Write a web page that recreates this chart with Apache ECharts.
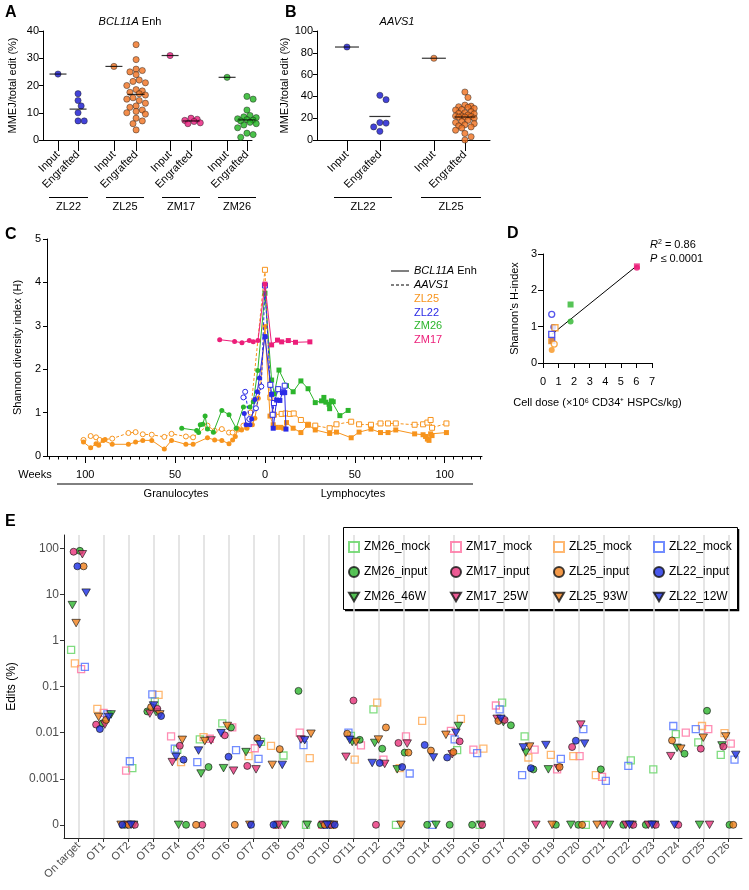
<!DOCTYPE html>
<html><head><meta charset="utf-8">
<script src="https://cdn.jsdelivr.net/npm/echarts@6/dist/echarts.min.js"></script>
<style>html,body{margin:0;padding:0;background:#fff}#c{width:749px;height:890px}</style>
</head><body><div id="c"></div><script>
// ================= DATA =================
// Panel A  (MMEJ / total edit %, BCL11A Enh)
const aTickLabels = ['Input','Engrafted','Input','Engrafted','Input','Engrafted','Input','Engrafted'];
const aSubjects = ['ZL22','ZL25','ZM17','ZM26'];
const aZL22Input = [24.2];
const aZL22Eng = [17, 14.5, 12.5, 10, 7, 7];
const aZL25Input = [27];
const aZL25Eng = [35, 29.5, 26, 25.5, 25, 24, 22, 21.5, 21, 20, 18.5, 18, 17.5, 17, 16.5, 15.5, 15, 14.5, 13.5, 12.5, 12, 11, 10.5, 10, 9.5, 8, 7, 6, 3.7];
const aZM17Input = [31];
const aZM17Eng = [8, 7.6, 7.2, 6.8, 6.3, 6.0];
const aZM26Input = [23];
const aZM26Eng = [16, 15, 11, 9, 8.5, 8.2, 7.8, 7.5, 7.3, 7, 6.5, 6, 5.5, 4.5, 2.5, 2, 1];
// Panel B (AAVS1)
const bTickLabels = ['Input','Engrafted','Input','Engrafted'];
const bSubjects = ['ZL22','ZL25'];
const bZL22Input = [85.3];
const bZL22Eng = [41, 37, 16, 15.5, 12, 8];
const bZL25Input = [75];
const bZL25Eng = [44, 39, 32, 31, 30.5, 30, 29, 28, 27.5, 26, 25, 24.5, 24, 23, 22, 21.5, 21, 22, 21, 20, 18, 17, 16, 15, 14, 13, 12, 11, 9, 3, 0, 6];

// Panel C  (weeks: negative = granulocytes, positive = lymphocytes)
const cZL25BclWeeks = [-101,-97,-94,-92.5,-90,-89,-85,-76,-72,-68,-63,-56,-52,-44,-40,-32,-28,-24,-20,-18,-16.5,-15,-13,-10,-7,-5.6,-3.7,-2.4,0,2.8,4.6,6,8.7,10.5,12,15.7,20,24,28,36,39.8,48,52.4,59,64.3,68.5,72.8,83.3,88,89.4,90.4,91.3,92.2,93,101];
const cZL25BclH = [0.32,0.19,0.28,0.25,0.36,0.38,0.27,0.27,0.32,0.36,0.36,0.16,0.36,0.27,0.27,0.42,0.37,0.36,0.28,0.37,0.45,0.63,0.6,0.64,0.72,0.87,1.33,1.62,2.98,0.92,0.72,0.66,0.66,0.64,0.77,0.64,0.54,0.72,0.6,0.52,0.55,0.42,0.55,0.62,0.54,0.54,0.6,0.51,0.49,0.45,0.39,0.36,0.51,0.47,0.54];
const cZL25AavWeeks = [-101,-97,-94,-92,-85,-76,-72,-68,-63,-56,-52,-44,-40,-32,-28,-24,-20,-18,-15,-12,-8,0,3,5,9.3,11.5,13.9,16,20,24,28,36,39.8,48,52.4,59,64.3,68.5,72.8,83.3,88,90.4,92.2,93,101];
const cZL25AavH = [0.37,0.46,0.43,0.37,0.4,0.53,0.55,0.5,0.49,0.44,0.51,0.45,0.43,0.7,0.58,0.62,0.54,0.54,0.61,0.7,1.0,4.29,1.35,0.95,0.97,0.98,0.97,0.98,0.83,0.72,0.7,0.64,0.73,0.79,0.73,0.72,0.75,0.75,0.75,0.72,0.73,0.77,0.83,0.65,0.75];
const cZL22BclWeeks = [-11.5,-10.5,-8.3,-7.4,-5.6,-4.3,-3.1,0,3.7,4.6,6.5,8.3,9.8,11,11.7];
const cZL22BclH = [0.98,0.72,0.72,0.85,1.3,1.48,1.8,2.75,1.42,0.64,1.29,1.28,1.46,1.46,0.62];
const cZL22AavWeeks = [-12,-11,-8.7,-5,-2,0,3,4.3,5,7.4,10,11];
const cZL22AavH = [1.35,1.48,0.85,1.1,1.6,3.93,1.64,0.95,1.22,1.54,1.48,1.62];
const cZM26Weeks = [-46.3,-38,-36.9,-36,-34.6,-33.3,-32,-28.7,-24,-20,-16,-12,-8.3,-6.5,-4,0,3.7,5.2,7.8,12,15.7,20,24,28,31.5,32.8,33.9,35.7,36,37,38,41.7,46.3];
const cZM26H = [0.64,0.59,0.54,0.72,0.73,0.92,0.62,0.55,1.05,0.95,0.64,1.13,1.13,1.25,1.97,3.75,1.75,1.43,1.98,1.62,1.48,1.73,1.55,1.23,1.27,1.35,1.24,1.19,1.09,1.27,1.25,0.93,1.05];
const cZM17Weeks = [-25.2,-16.9,-12.8,-8.7,-6.5,-3.9,0,3.7,7,9.3,13,17,25];
const cZM17H = [2.68,2.64,2.61,2.66,2.63,2.66,3.96,2.56,2.67,2.63,2.66,2.62,2.63];
const cTickLabels = [-100,-50,0,50,100];

// Panel D
const dSubject = ['ZM17','ZM17','ZM26','ZM26','ZL22','ZL22','ZL25','ZL22','ZL22','ZL25','ZL25','ZL25'];
const dTarget  = ['BCL11A','BCL11A','BCL11A','BCL11A','AAVS1','BCL11A','AAVS1','AAVS1','BCL11A','BCL11A','AAVS1','BCL11A'];
const dCell    = ['G','L','L','G','G','G','L','L','L','L','G','G'];
const dDose    = [6.03,6.03,1.77,1.77,0.56,0.66,0.77,0.56,0.6,0.52,0.72,0.56];
const dH       = [2.62,2.66,1.61,1.14,1.34,0.99,0.97,0.79,0.61,0.6,0.52,0.36];

// Panel E
const eCats = ['On target','OT1','OT2','OT3','OT4','OT5','OT6','OT7','OT8','OT9','OT10','OT11','OT12','OT13','OT14','OT15','OT16','OT17','OT18','OT19','OT20','OT21','OT22','OT23','OT24','OT25','OT26'];
const eTickVals = [-4,-3,-2,-1,0,1,2];
const eTickLabels = ['0','0.001','0.01','0.1','1','10','100'];
const eZM26mock = [0.63,null,0.0017,0.048,0.0043,0.0072,0.016,0.0063,0.0032,0,0,0.0085,0.032,0,null,0.0042,0,0.045,0.0083,null,0,null,0.0025,0.0016,0.0093,0.0062,0.0033];
const eZM26input = [89,0.016,0,0.029,0,0.0018,0.013,null,0,0.081,0,0.007,0.0045,0.0037,0,0,0,0.0145,0.0016,0,0,0.0016,0,0,0.0035,0.03,0];
const eZM2646W = [5.9,0.025,0,0.028,0,0.0013,0.0017,0.0038,0,0,0,0.0063,0.006,0.0016,0,0.014,0,0.017,0.0037,0.0016,0,0,0,0,0.0047,0,0.0053];
const eZM17mock = [0.24,0.027,0.0015,null,0.0083,0.0074,0.013,0.0046,0,0.01,0,0.0053,0.0026,0.0083,null,0.011,0.0043,0.039,0.0043,0.0016,0.0031,0.0011,null,null,0.01,0.012,0.0058];
const eZM17input = [85,0.015,0,0.033,0.0052,0,0.0088,0.0019,null,null,0,0.05,0,0.006,null,0.0065,0,0.019,null,null,0.0049,null,0,0,0,0.0045,0.005];
const eZM1725W = [75,0.015,0,0.026,0.0023,0.0068,0.0015,0.0016,0,0.0071,0,0.003,0.0021,0.0058,null,0.0034,null,0.02,0,0.0017,0.015,0,0,0,0.0031,0,null];
const eZL25mock = [0.32,0.033,null,0.066,0.0023,0.008,null,0.0031,0.0052,0.0028,0,0.0026,0.045,0.0017,0.018,0.02,0.0045,null,0.0029,0.0033,0.0031,0.0012,null,null,null,0.014,0.0098];
const eZL25input = [41,0.019,0,0.036,null,0,0,0.0076,0.0044,null,0,0.0095,0.013,0.0037,0.0041,0.0038,null,0.018,null,0.0018,0,null,null,null,0.0068,null,0];
const eZL2593W = [2.4,0.022,0,0.025,0.007,0.0066,0.014,0,0.002,0.0095,0,0.0063,0.0071,0,null,0.009,null,null,0.005,0,null,0,null,null,0.0045,0.0078,0.0083];
const eZL22mock = [0.27,0.025,0.0024,0.068,0.0045,0.0023,0.0042,0.0027,null,0.0054,0,0.01,null,0.0013,0,0.0072,0.0036,0.032,0.0012,0.0027,0.012,0.0009,0.0019,null,0.014,0.012,0.0026];
const eZL22input = [41,0.012,0,0.023,0.0026,null,0.003,0,0,null,0,null,0.0022,0.0018,0.0054,0.0029,null,null,0.0017,null,0.0067,null,null,null,null,null,null];
const eZL2212W = [11,0.022,0,0.039,0.003,0.0041,0.0098,0.0056,0.002,0.0069,0,0.007,0.0022,null,0.0029,0.01,null,0.02,0.0048,0.0054,0.0058,null,0,0,0,null,0.0033];

// ================= STYLE / LAYOUT =================
const FONT = '"Liberation Sans", Arial, Helvetica, sans-serif';
const colA = {ZL22:'#1414d0', ZL25:'#f0701e', ZM17:'#e8197b', ZM26:'#1db31d'};
const colC = {ZL22:'#2a2ae6', ZL25:'#f7941d', ZM17:'#ec1e79', ZM26:'#2cb52c'};
const colE = {ZM26:'#2db52d', ZM17:'#e8327a', ZL25:'#f07f1a', ZL22:'#1a2ee6'};
const colEmock = {ZM26:'#5fd35f', ZM17:'#ff6fa0', ZL25:'#ffa64d', ZL22:'#4d6fff'};
const aPos = [0.71,1.66,3.36,4.41,6.02,7.01,8.72,9.66];
const bPos = [1.42,2.98,5.54,7.01];
const TRI = 'path://M0,0L10,0L5,8.66Z';
const DOT = 6.2;

// beeswarm offsets (pixels) so overlapping dots spread sideways
function swarm(vals, ppu, d, maxOff) {
  const idx = vals.map((_, i) => i).sort((a, b) => vals[b] - vals[a]);
  const placed = [], out = [];
  const step = d * 0.5;
  idx.forEach(i => {
    const y = vals[i] * ppu;
    let best = 0, bestScore = -1;
    for (let k = 0; ; k++) {
      const c = k === 0 ? 0 : (k % 2 ? 1 : -1) * Math.ceil(k / 2) * step;
      if (Math.abs(c) > maxOff) break;
      const minD = placed.reduce((m, p) => Math.min(m, Math.hypot(p.x - c, p.y - y)), Infinity);
      if (minD >= d) { best = c; bestScore = Infinity; break; }
      if (minD > bestScore + 0.01) { bestScore = minD; best = c; }
    }
    placed.push({x:best, y}); out[i] = best;
  });
  return out;
}
function dotSeries(xi, yi, pos, vals, color, ppu, maxOff) {
  const dx = swarm(vals, ppu, DOT, maxOff);
  return {type:'scatter', xAxisIndex:xi, yAxisIndex:yi, symbol:'circle', symbolSize:DOT, silent:true, z:3,
    itemStyle:{color, borderColor:'#222', borderWidth:0.6},
    data: vals.map((v, i) => ({value:[pos, v], symbolOffset:[dx[i], 0]}))};
}
function meanSeries(xi, yi, pos, vals, w) {
  const m = vals.reduce((a, b) => a + b, 0) / vals.length;
  return {type:'scatter', xAxisIndex:xi, yAxisIndex:yi, symbol:'rect', symbolSize:[w, 1.2], silent:true, z:4,
    itemStyle:{color:'#000'}, data:[[pos, m]]};
}
function baseAxis(extra) {
  return Object.assign({
    axisLine:{show:true, onZero:false, lineStyle:{color:'#000', width:1}},
    axisTick:{show:true, inside:false, length:4, lineStyle:{color:'#000', width:1}},
    axisLabel:{show:true, color:'#000', fontFamily:FONT, fontSize:11, margin:4},
    splitLine:{show:false},
    nameTextStyle:{color:'#000', fontFamily:FONT, fontSize:11}
  }, extra);
}

const series = [];
// --- A  (xAxis 0 / yAxis 0)
const aGroups = [aZL22Input, aZL22Eng, aZL25Input, aZL25Eng, aZM17Input, aZM17Eng, aZM26Input, aZM26Eng];
aGroups.forEach((g, i) => {
  const c = colA[aSubjects[Math.floor(i / 2)]];
  series.push(dotSeries(0, 0, aPos[i], g, c, 109 / 40, 10));
  series.push(meanSeries(0, 0, aPos[i], g, 17));
});
// --- B  (xAxis 1 / yAxis 1)
const bGroups = [bZL22Input, bZL22Eng, bZL25Input, bZL25Eng];
bGroups.forEach((g, i) => {
  const c = colA[bSubjects[Math.floor(i / 2)]];
  series.push(dotSeries(1, 1, bPos[i], g, c, 109 / 100, 10));
  series.push(meanSeries(1, 1, bPos[i], g, i % 2 ? 21 : 24));
});
// --- C  (xAxis 2 / yAxis 2)
function cSeries(weeks, H, color, dashed, z) {
  return {type:'line', xAxisIndex:2, yAxisIndex:2, silent:true, z,
    symbolSize:5, showSymbol:true, showAllSymbol:true,
    data: weeks.map((w, i) => ({value:[w, H[i]], symbol: w < 0 ? 'circle' : 'rect'})),
    lineStyle:{color, width:1, type: dashed ? [3, 2] : 'solid'},
    itemStyle: dashed ? {color:'#fff', borderColor:color, borderWidth:1} : {color, borderWidth:0}};
}
series.push(cSeries(cZL25AavWeeks, cZL25AavH, colC.ZL25, true, 2));
series.push(cSeries(cZL25BclWeeks, cZL25BclH, colC.ZL25, false, 3));
series.push(cSeries(cZM26Weeks, cZM26H, colC.ZM26, false, 3));
series.push(cSeries(cZL22AavWeeks, cZL22AavH, colC.ZL22, true, 4));
series.push(cSeries(cZL22BclWeeks, cZL22BclH, colC.ZL22, false, 4));
series.push(cSeries(cZM17Weeks, cZM17H, colC.ZM17, false, 5));
// --- D  (xAxis 4 / yAxis 3)
(function () {
  const n = dDose.length;
  const mx = dDose.reduce((a, b) => a + b) / n, my = dH.reduce((a, b) => a + b) / n;
  let sxy = 0, sxx = 0;
  for (let i = 0; i < n; i++) { sxy += (dDose[i] - mx) * (dH[i] - my); sxx += (dDose[i] - mx) ** 2; }
  const slope = sxy / sxx, icpt = my - slope * mx;
  const x0 = Math.min(...dDose) + 0.08, x1 = Math.max(...dDose);
  series.push({type:'line', xAxisIndex:4, yAxisIndex:3, silent:true, z:2, symbol:'none',
    lineStyle:{color:'#000', width:1}, data:[[x0, icpt + slope * x0], [x1, icpt + slope * x1]]});
  series.push({type:'scatter', xAxisIndex:4, yAxisIndex:3, silent:true, z:3,
    data: dDose.map((x, i) => {
      const c = colC[dSubject[i]], filled = dTarget[i] === 'BCL11A';
      return {value:[x, dH[i]], symbol: dCell[i] === 'G' ? 'circle' : 'rect', symbolSize: 6,
        itemStyle: filled ? {color:c, borderWidth:0} : {color:'#fff', borderColor:c, borderWidth:1.3}};
    })});
})();
// --- E  (xAxis 5 / yAxis 4)
const eList = [
  ['ZM26_mock', eZM26mock, 'ZM26', 'mock'], ['ZM26_input', eZM26input, 'ZM26', 'input'], ['ZM26_46W', eZM2646W, 'ZM26', 'wk'],
  ['ZM17_mock', eZM17mock, 'ZM17', 'mock'], ['ZM17_input', eZM17input, 'ZM17', 'input'], ['ZM17_25W', eZM1725W, 'ZM17', 'wk'],
  ['ZL25_mock', eZL25mock, 'ZL25', 'mock'], ['ZL25_input', eZL25input, 'ZL25', 'input'], ['ZL25_93W', eZL2593W, 'ZL25', 'wk'],
  ['ZL22_mock', eZL22mock, 'ZL22', 'mock'], ['ZL22_input', eZL22input, 'ZL22', 'input'], ['ZL22_12W', eZL2212W, 'ZL22', 'wk']
];
const toLog = v => (v === 0 ? -4 : Math.log10(v));
eList.forEach(([name, vals, subj, kind], s) => {
  const style = kind === 'mock'
    ? {color:'rgba(255,255,255,0)', borderColor:colEmock[subj], borderWidth:1.3}
    : {color:colE[subj], borderColor:'#111', borderWidth:0.8};
  const pts = [];
  vals.forEach((v, c) => {
    if (v === null) return;
    const dx = (((s * 7 + c * 11) % 13) - 6) * 1.25;
    pts.push({value:[c, toLog(v)], symbolOffset:[dx, 0]});
  });
  series.push({type:'scatter', name, xAxisIndex:5, yAxisIndex:4, silent:true,
    z: kind === 'mock' ? 3 : 4,
    symbol: kind === 'mock' ? 'rect' : kind === 'input' ? 'circle' : TRI,
    symbolSize: kind === 'mock' ? 7 : kind === 'input' ? 7 : [8.5, 7.5],
    itemStyle: style, data: pts});
});

const eIdx = eCats.map((_, i) => i);
const cMinor = []; for (let w = -120; w <= 120; w += 5) cMinor.push(w);

const grids = [
  {left:43, top:31, width:209, height:109},
  {left:317, top:31, width:173, height:109},
  {left:47, top:239, width:435, height:217},
  {left:543, top:254, width:109, height:109},
  {left:64, top:535, width:678, height:303}
].map(g => Object.assign(g, {containLabel:false, outerBoundsMode:'none'}));

const xAxis = [
  baseAxis({type:'value', gridIndex:0, position:'bottom', min:0, max:9.9,
    axisTick:{show:true, length:11, customValues:aPos, lineStyle:{color:'#000'}},
    axisLabel:{show:true, customValues:aPos, rotate:45, margin:13, color:'#000', fontFamily:FONT, fontSize:11,
      formatter:v => aTickLabels[aPos.findIndex(p => Math.abs(p - v) < 1e-6)] || ''}}),
  baseAxis({type:'value', gridIndex:1, position:'bottom', min:0, max:8.2,
    axisTick:{show:true, length:11, customValues:bPos, lineStyle:{color:'#000'}},
    axisLabel:{show:true, customValues:bPos, rotate:45, margin:13, color:'#000', fontFamily:FONT, fontSize:11,
      formatter:v => bTickLabels[bPos.findIndex(p => Math.abs(p - v) < 1e-6)] || ''}}),
  baseAxis({type:'value', gridIndex:2, position:'bottom', min:-121.3, max:120.8,
    axisTick:{show:true, length:3.5, customValues:cMinor, lineStyle:{color:'#000'}},
    axisLabel:{show:false}}),
  baseAxis({type:'value', gridIndex:2, position:'bottom', min:-121.3, max:120.8, axisLine:{show:false},
    axisTick:{show:true, length:7, customValues:cTickLabels, lineStyle:{color:'#000'}},
    axisLabel:{show:true, customValues:cTickLabels, margin:13, color:'#000', fontFamily:FONT, fontSize:11,
      formatter:v => String(Math.abs(v))}}),
  baseAxis({type:'value', gridIndex:3, position:'bottom', min:0, max:7, interval:1,
    axisTick:{show:true, length:5, lineStyle:{color:'#000'}},
    axisLabel:{show:true, margin:13, color:'#000', fontFamily:FONT, fontSize:11},
    name:'Cell dose (×10⁶ CD34⁺ HSPCs/kg)', nameLocation:'middle', nameGap:34,
    nameTextStyle:{color:'#000', fontFamily:FONT, fontSize:11}}),
  baseAxis({type:'value', gridIndex:4, position:'bottom', min:-0.585, max:26.55,
    axisLine:{show:true, onZero:false, lineStyle:{color:'#222', width:1}},
    axisTick:{show:true, length:4, customValues:eIdx, lineStyle:{color:'#333'}},
    axisLabel:{show:true, customValues:eIdx, rotate:45, margin:6, color:'#4d4d4d', fontFamily:FONT, fontSize:11,
      formatter:v => eCats[Math.round(v)]},
    splitLine:{show:true, lineStyle:{color:'#dcdcdc', width:1.5}}})
];
const yAxis = [
  baseAxis({type:'value', gridIndex:0, min:0, max:40, interval:10,
    name:'MMEJ/total edit (%)', nameLocation:'middle', nameGap:25}),
  baseAxis({type:'value', gridIndex:1, min:0, max:100, interval:20,
    name:'MMEJ/total edit (%)', nameLocation:'middle', nameGap:23}),
  baseAxis({type:'value', gridIndex:2, min:0, max:5, interval:1,
    axisLabel:{show:true, margin:6, color:'#000', fontFamily:FONT, fontSize:11},
    name:'Shannon diversity index (H)', nameLocation:'middle', nameGap:24}),
  baseAxis({type:'value', gridIndex:3, min:0, max:3, interval:1,
    axisTick:{show:true, length:5, lineStyle:{color:'#000'}},
    axisLabel:{show:true, margin:6, color:'#000', fontFamily:FONT, fontSize:11},
    name:'Shannon\u2019s H-index', nameLocation:'middle', nameGap:23}),
  baseAxis({type:'value', gridIndex:4, min:-4.286, max:2.293,
    axisLine:{show:true, onZero:false, lineStyle:{color:'#222', width:1}},
    axisTick:{show:true, length:4, customValues:eTickVals, lineStyle:{color:'#333'}},
    axisLabel:{show:true, customValues:eTickVals, margin:5, color:'#4d4d4d', fontFamily:FONT, fontSize:12,
      formatter:v => eTickLabels[eTickVals.indexOf(Math.round(v))]},
    name:'Edits (%)', nameLocation:'middle', nameGap:40,
    nameTextStyle:{color:'#000', fontFamily:FONT, fontSize:12}})
];

const legendCols = [
  ['ZM26_mock','ZM26_input','ZM26_46W'], ['ZM17_mock','ZM17_input','ZM17_25W'],
  ['ZL25_mock','ZL25_input','ZL25_93W'], ['ZL22_mock','ZL22_input','ZL22_12W']
];
const legendLeft = [348, 450, 553, 653];
const legend = legendCols.map((names, k) => ({
  show:true, orient:'vertical', left:legendLeft[k], top:541, itemGap:13, itemWidth:10, itemHeight:10,
  padding:0, selectedMode:false, data:names,
  textStyle:{color:'#000', fontFamily:FONT, fontSize:12}
}));

function txt(x, y, text, opt) {
  return Object.assign({type:'text', x, y, silent:true, style:Object.assign({text, fill:'#000',
    font:'11px ' + FONT, align:'left', verticalAlign:'middle'}, opt || {})});
}
function ln(x1, y1, x2, y2, opt) {
  return {type:'line', silent:true, shape:{x1, y1, x2, y2}, style:Object.assign({stroke:'#000', lineWidth:1}, opt || {})};
}
const rich11 = {i:{fontStyle:'italic', fontSize:11, fontFamily:FONT, fill:'#000'}, n:{fontSize:11, fontFamily:FONT, fill:'#000'}};
const graphic = [
  txt(5, 13, 'A', {font:'bold 16px ' + FONT}),
  txt(285, 13, 'B', {font:'bold 16px ' + FONT}),
  txt(5, 235, 'C', {font:'bold 16px ' + FONT}),
  txt(507, 234, 'D', {font:'bold 16px ' + FONT}),
  txt(5, 522, 'E', {font:'bold 16px ' + FONT}),
  txt(130, 22, '{i|BCL11A}{n| Enh}', {align:'center', rich:rich11}),
  txt(397, 22, 'AAVS1', {align:'center', font:'italic 11px ' + FONT}),
  // group labels A/B
  ln(49, 197.5, 88, 197.5), txt(68.5, 207, 'ZL22', {align:'center'}),
  ln(106, 197.5, 144, 197.5), txt(125, 207, 'ZL25', {align:'center'}),
  ln(162, 197.5, 200, 197.5), txt(181, 207, 'ZM17', {align:'center'}),
  ln(218, 197.5, 256, 197.5), txt(237, 207, 'ZM26', {align:'center'}),
  ln(334, 197.5, 392, 197.5), txt(363, 207, 'ZL22', {align:'center'}),
  ln(421, 197.5, 481, 197.5), txt(451, 207, 'ZL25', {align:'center'}),
  // C legend
  ln(391, 271, 409, 271), txt(414, 271, '{i|BCL11A}{n| Enh}', {rich:rich11}),
  ln(391, 285, 409, 285, {lineDash:[3, 2]}), txt(414, 285, 'AAVS1', {font:'italic 11px ' + FONT}),
  txt(414, 299, 'ZL25', {fill:colC.ZL25}),
  txt(414, 312.5, 'ZL22', {fill:colC.ZL22}),
  txt(414, 326, 'ZM26', {fill:colC.ZM26}),
  txt(414, 339.5, 'ZM17', {fill:colC.ZM17}),
  // C bottom
  txt(35, 475, 'Weeks', {align:'center'}),
  ln(57, 484, 473, 484),
  txt(176, 493.5, 'Granulocytes', {align:'center'}),
  txt(353, 493.5, 'Lymphocytes', {align:'center'}),
  // D stats
  txt(650, 245, '{i|R}{s|2}{n| = 0.86}', {rich:{i:{fontStyle:'italic', fontSize:11, fontFamily:FONT, fill:'#000'},
      s:{fontSize:7, fontFamily:FONT, fill:'#000', verticalAlign:'top', padding:[0, 0, 6, 0]}, n:{fontSize:11, fontFamily:FONT, fill:'#000'}}}),
  txt(650, 259, '{i|P}{n| \u2264 0.0001}', {rich:rich11}),
  // E legend box
  {type:'rect', silent:true, shape:{x:343.5, y:527.5, width:394, height:82}, style:{fill:'none', stroke:'#000', lineWidth:1}},
  {type:'polyline', silent:true, shape:{points:[[345, 610.5], [738.5, 610.5], [738.5, 529]]}, style:{fill:'none', stroke:'#000', lineWidth:1.5}}
];

const chart = echarts.init(document.getElementById('c'), null, {renderer:'canvas', width:749, height:890});
chart.setOption({animation:false, backgroundColor:'#fff', textStyle:{fontFamily:FONT},
  grid:grids, xAxis, yAxis, legend, series, graphic});
</script></body></html>
